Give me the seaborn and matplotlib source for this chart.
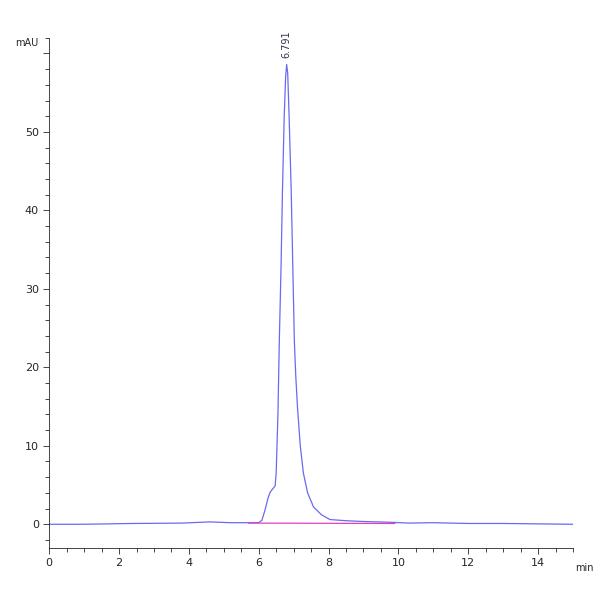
import pandas as pd
import matplotlib.pyplot as plt
import seaborn as sns
from matplotlib.ticker import MultipleLocator

# chromatogram trace (min, mAU)
time_min = [0, 1.0, 2.4, 3.8, 4.6, 5.2, 5.6, 6.0, 6.09, 6.18, 6.27, 6.33, 6.40, 6.47, 6.50,
            6.55, 6.59, 6.64, 6.68, 6.73, 6.77, 6.80, 6.83, 6.87, 6.93, 6.98, 7.02, 7.06,
            7.11, 7.19, 7.28, 7.40, 7.57, 7.8, 8.04, 8.5, 9.0, 9.8, 10.3, 11.0, 12.0, 13.0, 15.0]
signal_mau = [0, 0, 0.1, 0.15, 0.3, 0.2, 0.2, 0.2, 0.5, 1.8, 3.4, 4.1, 4.5, 4.9, 6.5,
              14.0, 23.4, 33.0, 42.5, 52.0, 57.0, 58.6, 57.5, 52.0, 42.5, 32.0, 23.4, 19.0,
              14.9, 10.0, 6.5, 4.0, 2.2, 1.2, 0.6, 0.45, 0.35, 0.25, 0.15, 0.2, 0.1, 0.1, 0.0]
baseline_t = [5.7, 9.9]
baseline_y = [0.15, 0.1]
peak_rt = 6.791
peak_h = 58.6

df = pd.DataFrame({"t": time_min, "y": signal_mau})

sns.set_style("ticks")
fig = plt.figure(figsize=(6, 6), dpi=100)
ax = fig.add_axes([0.082, 0.087, 0.873, 0.85])
sns.lineplot(data=df, x="t", y="y", color="#6a6af0", linewidth=0.9, ax=ax)
ax.plot(baseline_t, baseline_y, color="#e040c0", linewidth=0.9)
ax.text(peak_rt, peak_h + 0.8, f"{peak_rt:.3f}", rotation=90, ha="center", va="bottom",
        fontsize=7, color="#303050")

ax.set_xlim(0, 15)
ax.set_ylim(-3, 62)
ax.xaxis.set_major_locator(MultipleLocator(2))
ax.xaxis.set_minor_locator(MultipleLocator(0.5))
ax.set_yticks([0, 10, 20, 30, 40, 50, 60], ["0", "10", "20", "30", "40", "50", ""])
ax.yaxis.set_minor_locator(MultipleLocator(2))
ax.tick_params(labelsize=8, length=4, width=0.6, direction="out")
ax.tick_params(which="minor", length=3, width=0.6)
ax.set_xlabel("")
ax.set_ylabel("")
for s in ["top", "right"]:
    ax.spines[s].set_visible(False)
for s in ["left", "bottom"]:
    ax.spines[s].set_linewidth(0.6)
ax.text(-0.02, 1.0, "mAU", transform=ax.transAxes, ha="right", va="top", fontsize=7)
ax.text(1.005, -0.03, "min", transform=ax.transAxes, ha="left", va="top", fontsize=7)

plt.savefig("out.png", dpi=100)
